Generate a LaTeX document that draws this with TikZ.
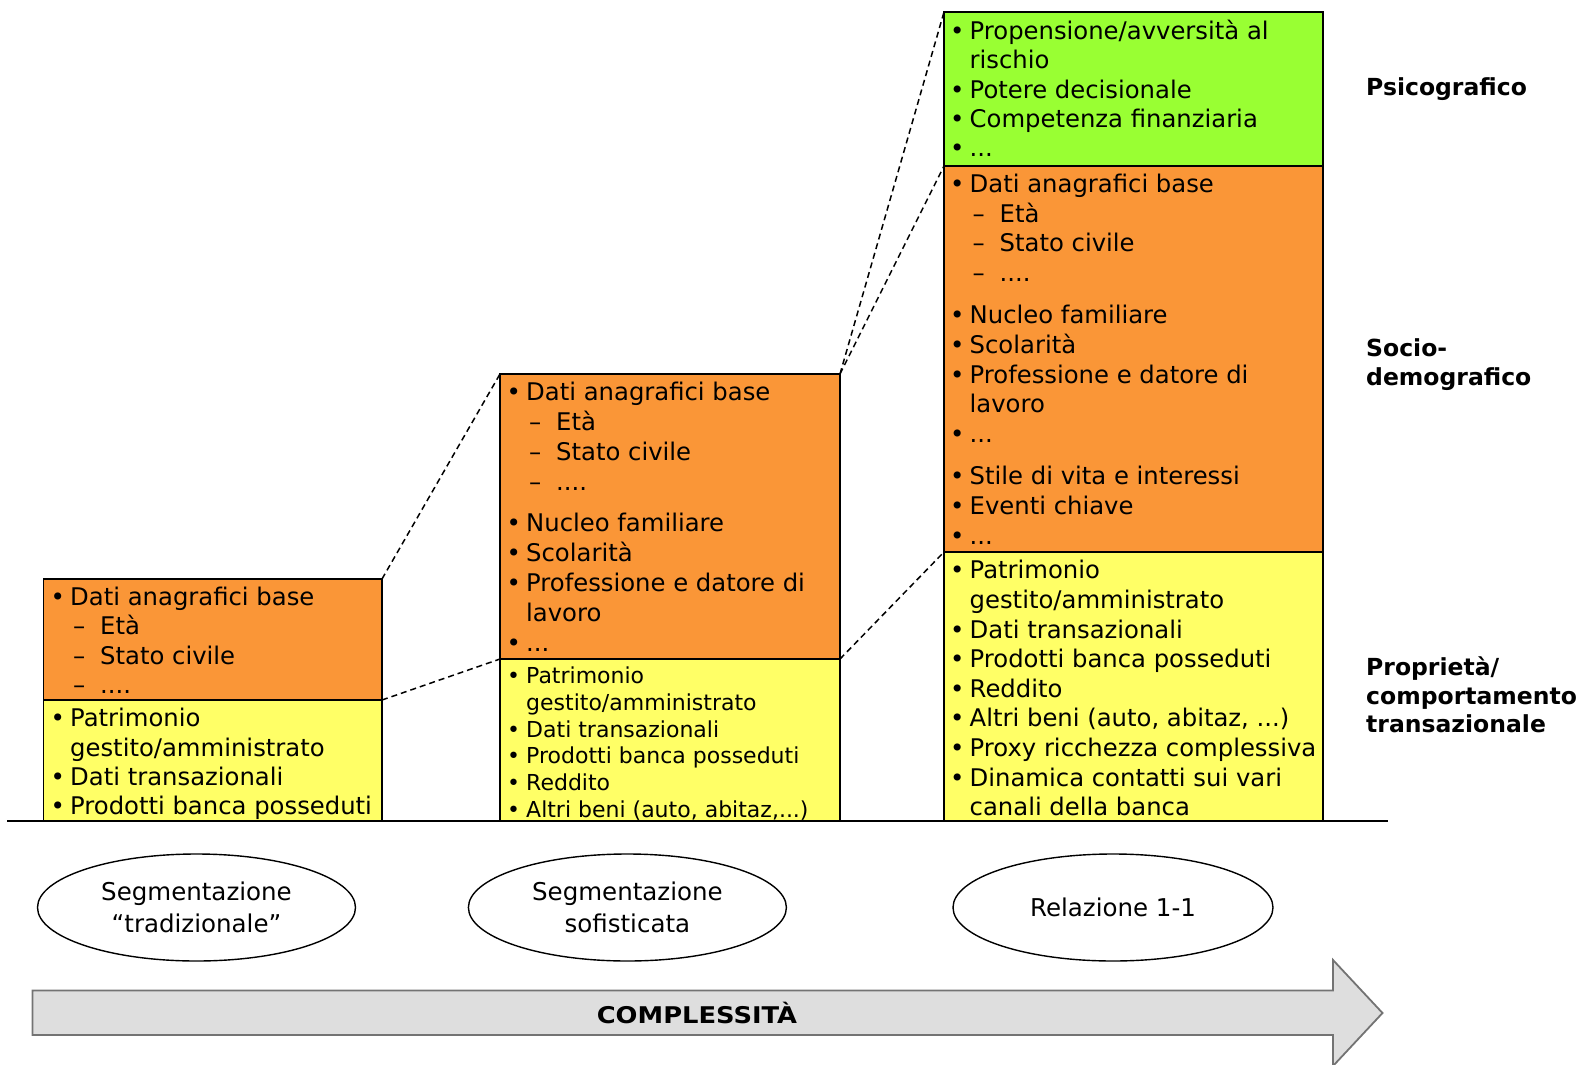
\documentclass[tikz,border=0pt]{standalone}
\usepackage{fontspec}
\setmainfont{DejaVu Sans}
\usepackage{graphicx}
\usetikzlibrary{shapes.geometric}
\definecolor{orangebox}{RGB}{250,150,55}
\definecolor{greenbox}{RGB}{153,255,51}
\definecolor{yellowbox}{RGB}{255,255,102}
\definecolor{arrowfill}{RGB}{222,222,222}
\newcommand\bul{\llap{\makebox[25pt][c]{•}}}
\newcommand\subi{\makebox[30pt][l]{\hspace{3pt}–}}
\newcommand\st{\rule{0pt}{25pt}}
\begin{document}
\begin{tikzpicture}[x=1pt,y=-1pt,
  boxr/.style={draw=black, line width=1.5pt, anchor=north west, inner sep=0pt, outer sep=0pt},
  txt/.style={anchor=north west, inner sep=0pt, align=left, text=black},
  link/.style={draw=black, dash pattern=on 6pt off 4pt, line width=1.5pt},
  ell/.style={ellipse, draw=black, line width=1.4pt, minimum width=318pt, minimum height=107pt, inner sep=0pt, align=center, font=\fontsize{24.5}{31.6}\selectfont},
  lab/.style={anchor=north west, inner sep=0pt, align=left, font=\bfseries\fontsize{23.5}{28.5}\selectfont}]
\useasboundingbox (0,0) rectangle (1588,1065);

% boxes
\node[boxr, fill=orangebox, minimum width=338.5pt, minimum height=121pt] (b1o) at (43.5,579) {};
\node[boxr, fill=yellowbox, minimum width=338.5pt, minimum height=121pt] (b1y) at (43.5,700) {};
\node[boxr, fill=orangebox, minimum width=340pt, minimum height=285pt] (b2o) at (500,374) {};
\node[boxr, fill=yellowbox, minimum width=340pt, minimum height=162pt] (b2y) at (500,659) {};
\node[boxr, fill=greenbox, minimum width=379pt, minimum height=154pt] (b3g) at (944,12) {};
\node[boxr, fill=orangebox, minimum width=379pt, minimum height=386pt] (b3o) at (944,166) {};
\node[boxr, fill=yellowbox, minimum width=379pt, minimum height=269pt] (b3y) at (944,552) {};

% ground line
\coordinate (gl) at (7,821);
\coordinate (gr) at (1388,821);
\draw[line width=1.5pt] (gl) -- (gr);

% dashed links
\draw[link] (b1o.north east) -- (b2o.north west);
\draw[link] (b1o.south east) -- (b2o.south west);
\draw[link] (b2o.north east) -- (b3g.north west);
\draw[link] (b2o.north east) -- (b3g.south west);
\draw[link] (b2o.south east) -- (b3o.south west);

% box texts
\node[txt, font=\fontsize{24.3}{29.5}\selectfont] (t1o) at (70,580)
  {\st\bul Dati anagrafici base\\ \subi Età\\ \subi Stato civile\\ \subi ....};
\node[txt, font=\fontsize{24.3}{29.3}\selectfont] (t1y) at (70,701.5)
  {\st\bul Patrimonio\\ gestito/amministrato\\ \bul Dati transazionali\\ \bul Prodotti banca posseduti};

\node[txt, font=\fontsize{24.3}{30}\selectfont] (t2o) at (526,375)
  {\st\bul Dati anagrafici base\\ \subi Età\\ \subi Stato civile\\ \subi ....\\[11.5pt]
   \bul Nucleo familiare\\ \bul Scolarità\\ \bul Professione e datore di\\ lavoro\\ \bul ...};
\node[txt, font=\fontsize{22}{26.7}\selectfont] (t2y) at (526,658.5)
  {\st\bul Patrimonio\\ gestito/amministrato\\ \bul Dati transazionali\\ \bul Prodotti banca posseduti\\ \bul Reddito\\ \bul Altri beni (auto, abitaz,...)};

\node[txt, font=\fontsize{24.3}{29.4}\selectfont] (t3g) at (969.5,14)
  {\st\bul Propensione/avversità al\\ rischio\\ \bul Potere decisionale\\ \bul Competenza finanziaria\\ \bul ...};
\node[txt, font=\fontsize{24.3}{29.8}\selectfont] (t3o) at (969.5,167)
  {\st\bul Dati anagrafici base\\ \subi Età\\ \subi Stato civile\\ \subi ....\\[12pt]
   \bul Nucleo familiare\\ \bul Scolarità\\ \bul Professione e datore di\\ lavoro\\ \bul ...\\[12pt]
   \bul Stile di vita e interessi\\ \bul Eventi chiave\\ \bul ...};
\node[txt, font=\fontsize{24.3}{29.6}\selectfont] (t3y) at (969.5,553.6)
  {\st\bul Patrimonio\\ gestito/amministrato\\ \bul Dati transazionali\\ \bul Prodotti banca posseduti\\ \bul Reddito\\ \bul Altri beni (auto, abitaz, ...)\\ \bul Proxy ricchezza complessiva\\ \bul Dinamica contatti sui vari\\ canali della banca};

% right labels
\node[lab] (l1) at (1366,70) {\st Psicografico};
\node[lab] (l2) at (1366,331.5) {\st Socio-\\demografico};
\node[lab] (l3) at (1366,650.5) {\st Proprietà/\\comportamento\\transazionale};

% ellipses
\node[ell] (e1) at (196.5,907.5) {Segmentazione\\“tradizionale”};
\node[ell] (e2) at (627.4,907.5) {Segmentazione\\sofisticata};
\node[ell, minimum width=320pt] (e3) at (1113,907.5) {Relazione 1-1};

% big arrow
\filldraw[fill=arrowfill, draw=black!55, line width=1.8pt, line join=miter]
  (32.4,990.5) -- (1333,990.5) -- (1333,960) -- (1382.5,1013) -- (1333,1066) -- (1333,1035) -- (32.4,1035) -- cycle;
\node[font=\bfseries\fontsize{23}{23}\selectfont, inner sep=0pt] (cx) at (697,1013) {\scalebox{1.12}[1]{COMPLESSITÀ}};
\end{tikzpicture}
\end{document}
